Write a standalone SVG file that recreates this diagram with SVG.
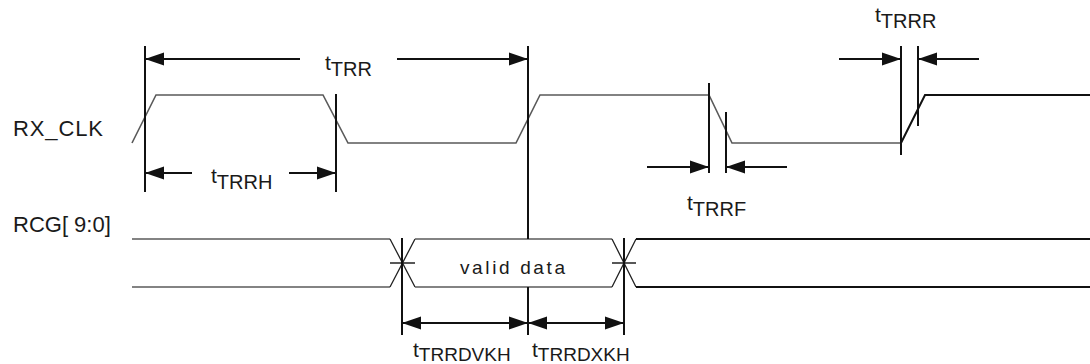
<svg xmlns="http://www.w3.org/2000/svg" width="1090" height="364" viewBox="0 0 1090 364">
<style>
.sig{fill:none;stroke:#5a5a5a;stroke-width:1.6;stroke-linejoin:miter}
.sigk{fill:none;stroke:#111;stroke-width:2}
.thin{fill:none;stroke:#222;stroke-width:1.3}
.guide{stroke:#111;stroke-width:2;fill:none}
.arr{stroke:#111;stroke-width:2;fill:none}
.lbl{font-family:"Liberation Sans",Arial,sans-serif;fill:#1a1a1a}
.t{font-family:"Liberation Sans",Arial,sans-serif;fill:#1a1a1a;font-size:21px}
.sub{font-size:20px}
.subs{font-size:19px}
</style>
<defs>
<marker id="ah" markerUnits="userSpaceOnUse" markerWidth="20" markerHeight="14" refX="19" refY="6.5" orient="auto-start-reverse" viewBox="0 0 20 13">
<path d="M0,0 L19,6.5 L0,13 z" fill="#111"/>
</marker>
</defs>
<rect width="1090" height="364" fill="#fff"/>

<g id="signal-labels">
<text class="lbl" x="13" y="136" font-size="22" textLength="90" lengthAdjust="spacing">RX_CLK</text>
<text class="lbl" x="13" y="232" font-size="22">RCG[ 9:0]</text>
</g>

<g id="rx-clk">
<polyline class="sig" points="132,143 156,95 323,95 348,143 516,143 540,95 709,95 732,143 901,143"/>
<polyline class="sigk" points="901,143 925,95 1090,95"/>
</g>

<g id="rcg-bus">
<polyline class="sig" points="132,239 390,239"/>
<polyline class="sig" points="132,287 390,287"/>
<path class="thin" d="M390,239 L415,287 M390,287 L415,239 M390,263 L415,263"/>
<polyline class="sig" points="415,239 612,239"/>
<polyline class="sig" points="415,287 612,287"/>
<path class="thin" d="M612,239 L636,287 M612,287 L636,239 M612,263 L636,263"/>
<polyline class="sigk" points="636,239 1090,239"/>
<polyline class="sigk" points="636,287 1090,287"/>
<text id="valid-data" class="lbl" x="460" y="274" font-size="19" textLength="105" lengthAdjust="spacing">valid data</text>
</g>

<g id="guides">
<line class="guide" x1="145" y1="46" x2="145" y2="192"/>
<line class="guide" x1="336" y1="94" x2="336" y2="192"/>
<line class="guide" x1="528" y1="46" x2="528" y2="239"/>
<line class="guide" x1="528" y1="287" x2="528" y2="335"/>
<line class="guide" x1="709" y1="83" x2="709" y2="173"/>
<line class="guide" x1="726" y1="112" x2="726" y2="173"/>
<line class="guide" x1="901" y1="46" x2="901" y2="155"/>
<line class="guide" x1="918" y1="46" x2="918" y2="126"/>
<line class="guide" x1="402" y1="238" x2="402" y2="335"/>
<line class="guide" x1="624" y1="238" x2="624" y2="335"/>
</g>

<g id="connectors">
<line class="arr" x1="300" y1="59" x2="145" y2="59" marker-end="url(#ah)"/>
<line class="arr" x1="397" y1="59" x2="528" y2="59" marker-end="url(#ah)"/>
<line class="arr" x1="192" y1="173" x2="145" y2="173" marker-end="url(#ah)"/>
<line class="arr" x1="289" y1="173" x2="336" y2="173" marker-end="url(#ah)"/>
<line class="arr" x1="647" y1="167" x2="709" y2="167" marker-end="url(#ah)"/>
<line class="arr" x1="787" y1="167" x2="726" y2="167" marker-end="url(#ah)"/>
<line class="arr" x1="839" y1="59" x2="901" y2="59" marker-end="url(#ah)"/>
<line class="arr" x1="979" y1="59" x2="918" y2="59" marker-end="url(#ah)"/>
<line class="arr" x1="402" y1="323" x2="528" y2="323" marker-start="url(#ah)" marker-end="url(#ah)"/>
<line class="arr" x1="528" y1="323" x2="624" y2="323" marker-start="url(#ah)" marker-end="url(#ah)"/>
</g>

<g id="timing-labels">
<text id="tTRR" class="t" x="325" y="70">t<tspan class="sub" dy="6">TRR</tspan></text>
<text id="tTRRH" class="t" x="211" y="183">t<tspan class="sub" dy="6">TRRH</tspan></text>
<text id="tTRRF" class="t" x="687" y="210">t<tspan class="sub" dy="6">TRRF</tspan></text>
<text id="tTRRR" class="t" x="875" y="22">t<tspan class="sub" dy="6">TRRR</tspan></text>
<text id="tTRRDVKH" class="t" x="413" y="357">t<tspan class="subs" dy="4">TRRDVKH</tspan></text>
<text id="tTRRDXKH" class="t" x="532" y="357">t<tspan class="subs" dy="4">TRRDXKH</tspan></text>
</g>
</svg>
